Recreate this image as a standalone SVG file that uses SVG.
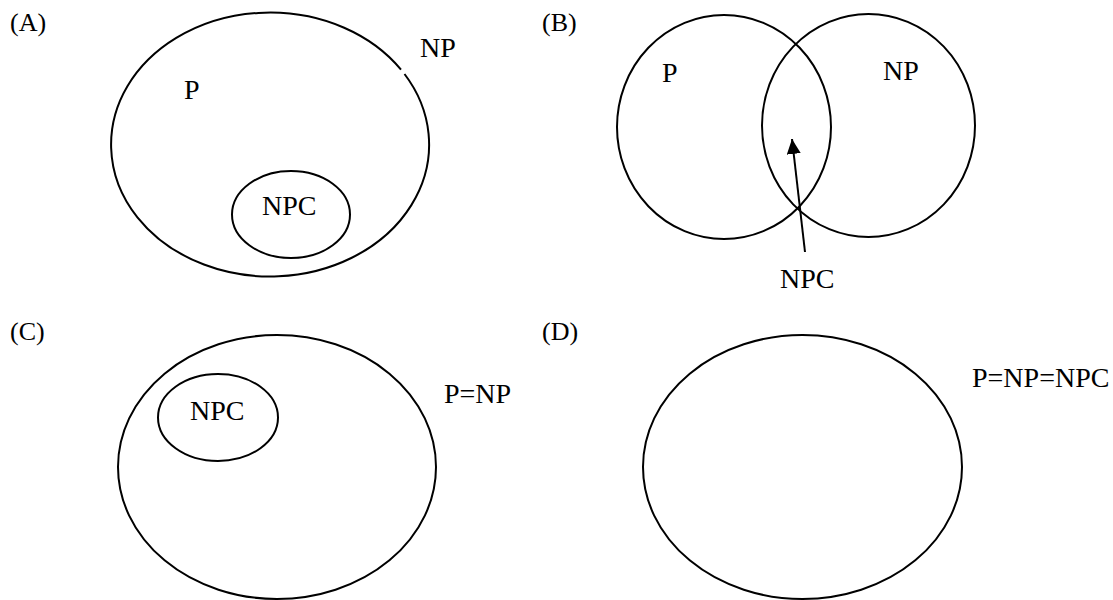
<svg xmlns="http://www.w3.org/2000/svg" width="1113" height="600" viewBox="0 0 1113 600">
  <style>
    .shape { fill: none; stroke: #000; stroke-width: 2; }
    .lbl { font-family: "Liberation Serif", "Times New Roman", serif; font-size: 28px; fill: #000; }
    .panel { font-family: "Liberation Serif", "Times New Roman", serif; font-size: 26px; fill: #000; }
  </style>
  <defs>
    <marker id="arrow" markerUnits="userSpaceOnUse" markerWidth="16" markerHeight="14" refX="15" refY="7" orient="auto">
      <path d="M0,0 L15,7 L0,14 z" fill="#000"/>
    </marker>
  </defs>
  <rect width="1113" height="600" fill="#fff"/>

  <!-- Panel A -->
  <g id="panelA">
    <text class="panel" x="10" y="31">(A)</text>
    <g id="A-NP">
      <path class="shape" d="M401,69.6 A159,132 0 1 0 404.5,74"/>
      <text class="lbl" x="420" y="57">NP</text>
    </g>
    <g id="A-P">
      <text class="lbl" x="184" y="99">P</text>
    </g>
    <g id="A-NPC">
      <ellipse class="shape" cx="291" cy="214.5" rx="59" ry="43.5"/>
      <text class="lbl" x="262" y="215">NPC</text>
    </g>
  </g>

  <!-- Panel B -->
  <g id="panelB">
    <text class="panel" x="542" y="31">(B)</text>
    <g id="B-P">
      <ellipse class="shape" cx="724" cy="127" rx="107" ry="112"/>
      <text class="lbl" x="662" y="82">P</text>
    </g>
    <g id="B-NP">
      <ellipse class="shape" cx="868.5" cy="125.5" rx="106.5" ry="111.5"/>
      <text class="lbl" x="883" y="80">NP</text>
    </g>
    <g id="B-NPC">
      <text class="lbl" x="780" y="288">NPC</text>
    </g>
  </g>

  <!-- Panel C -->
  <g id="panelC">
    <text class="panel" x="10" y="340">(C)</text>
    <g id="C-PNP">
      <ellipse class="shape" cx="277" cy="467" rx="159" ry="132"/>
      <text class="lbl" x="444" y="403">P=NP</text>
    </g>
    <g id="C-NPC">
      <ellipse class="shape" cx="218" cy="417.5" rx="60" ry="43.5"/>
      <text class="lbl" x="190" y="420">NPC</text>
    </g>
  </g>

  <!-- Panel D -->
  <g id="panelD">
    <text class="panel" x="542" y="340">(D)</text>
    <g id="D-all">
      <ellipse class="shape" cx="802.5" cy="467" rx="159.5" ry="132"/>
      <text class="lbl" x="972" y="387">P=NP=NPC</text>
    </g>
  </g>

  <!-- Connectors -->
  <g id="connectors">
    <line class="shape" x1="805" y1="252" x2="792" y2="139" marker-end="url(#arrow)"/>
  </g>
</svg>
